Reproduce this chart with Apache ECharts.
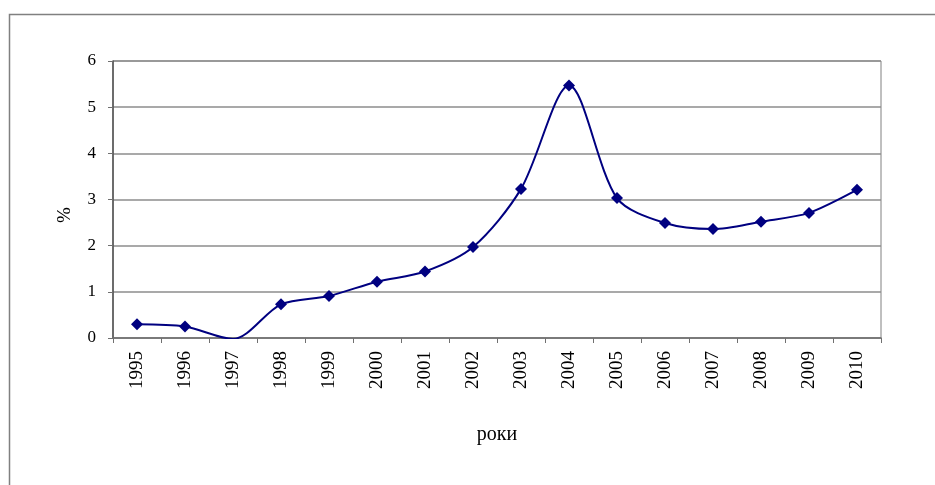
<!DOCTYPE html>
<html>
<head>
<meta charset="utf-8">
<script src="https://cdn.jsdelivr.net/npm/echarts@6/dist/echarts.min.js"></script>
<style>
html,body{margin:0;padding:0;background:#fff;}
#c{width:935px;height:485px;}
</style>
</head>
<body>
<div id="c"></div>
<script>
const years = ['1995','1996','1997','1998','1999','2000','2001','2002','2003','2004','2005','2006','2007','2008','2009','2010'];
const values = [0.30,0.25,-0.02,0.73,0.91,1.22,1.44,1.97,3.23,5.47,3.03,2.49,2.36,2.52,2.71,3.21];
const yTicks = [0,1,2,3,4,5,6];
const xName = 'роки';
const yName = '%';

const chart = echarts.init(document.getElementById('c'));
const font = 'Liberation Serif';
chart.setOption({
  animation: false,
  backgroundColor: '#fff',
  graphic: [
    {type:'rect', shape:{x:9.5,y:14.5,width:1000,height:1000}, style:{fill:'none', stroke:'#808080', lineWidth:1.5}},
    {type:'text', x:65, y:215, rotation:Math.PI/2, style:{text:yName, font:'19px "Liberation Serif"', fill:'#000', align:'center', verticalAlign:'middle'}}
  ],
  grid: {left:113, right:54, top:61, bottom:147, show:true, borderColor:'#808080', borderWidth:1, backgroundColor:'transparent'},
  xAxis: {
    type:'category', data: years, boundaryGap:true,
    name: xName, nameLocation:'middle', nameGap:87,
    nameTextStyle:{fontFamily:font, fontSize:20, color:'#000'},
    axisLine:{onZero:false, lineStyle:{color:'#707070', width:1.5}},
    axisTick:{show:true, inside:false, length:5, alignWithLabel:false, lineStyle:{color:'#707070'}},
    axisLabel:{rotate:90, fontFamily:font, fontSize:19, color:'#000', margin:13},
    splitLine:{show:false}
  },
  yAxis: {
    type:'value', min:yTicks[0], max:yTicks[yTicks.length-1], interval:1,
    axisLine:{show:true, lineStyle:{color:'#505050', width:1.5}},
    axisTick:{show:true, length:5, lineStyle:{color:'#707070'}},
    axisLabel:{fontFamily:font, fontSize:17, color:'#000', margin:17},
    splitLine:{show:true, lineStyle:{color:'#8c8c8c', width:1.5}}
  },
  series: [{
    type:'line', data: values, smooth:0.3,
    symbol:'diamond', symbolSize:12,
    lineStyle:{color:'#000080', width:2},
    itemStyle:{color:'#000080'}
  }]
});
</script>
</body>
</html>
